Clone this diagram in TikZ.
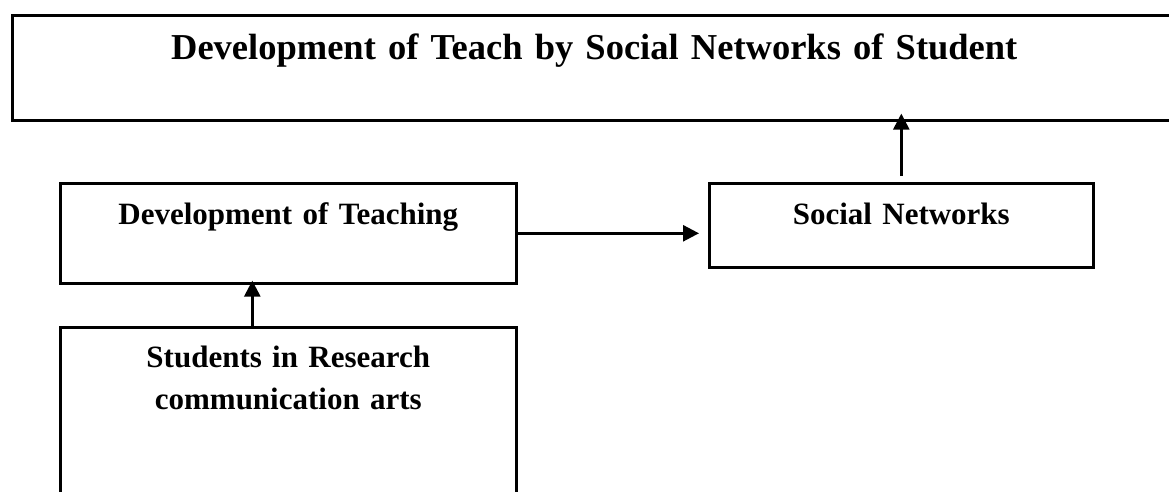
\documentclass[tikz,border=0pt]{standalone}
\usepackage{fontspec}
\setmainfont{Liberation Serif}
\usetikzlibrary{calc}
\usetikzlibrary{arrows.meta}

\begin{document}
\begin{tikzpicture}[x=1pt, y=-1pt,
  box/.style={draw, line width=2.6pt, inner sep=0pt, align=center,
    font=\bfseries\fontsize{31}{42}\selectfont},
  link/.style={line width=2.6pt, -{Triangle[length=16pt, width=16pt]}}]
  \useasboundingbox (0,0) rectangle (1169,492);
  \node[box, anchor=north west, text width=1164pt, text height=44pt, text depth=61pt,
    font=\bfseries\fontsize{36.5}{44}\selectfont] (title) at (11,14)
    {Development of Teach by Social Networks of Student};
  \node[box, anchor=north west, text width=456pt, text height=41pt, text depth=59pt] (dev) at (59,182)
    {Development of Teaching};
  \node[box, anchor=north west, text width=384pt, text height=41pt, text depth=43pt] (social) at (708,182)
    {Social Networks};
  \node[box, anchor=north west, text width=456pt, text height=40pt, text depth=140pt] (stud) at (59,326)
    {Students in Research\\communication arts};
  % connectors
  \draw[link, shorten >=9pt] (dev.east) -- (dev.east -| social.west);
  \draw[link, shorten <=6pt, shorten >=-8pt] (social.north) -- (social.north |- title.south);
  \draw[link, shorten >=-4pt] ([xshift=-36pt]stud.north) -- ([xshift=-36pt]dev.south);
\end{tikzpicture}
\end{document}
